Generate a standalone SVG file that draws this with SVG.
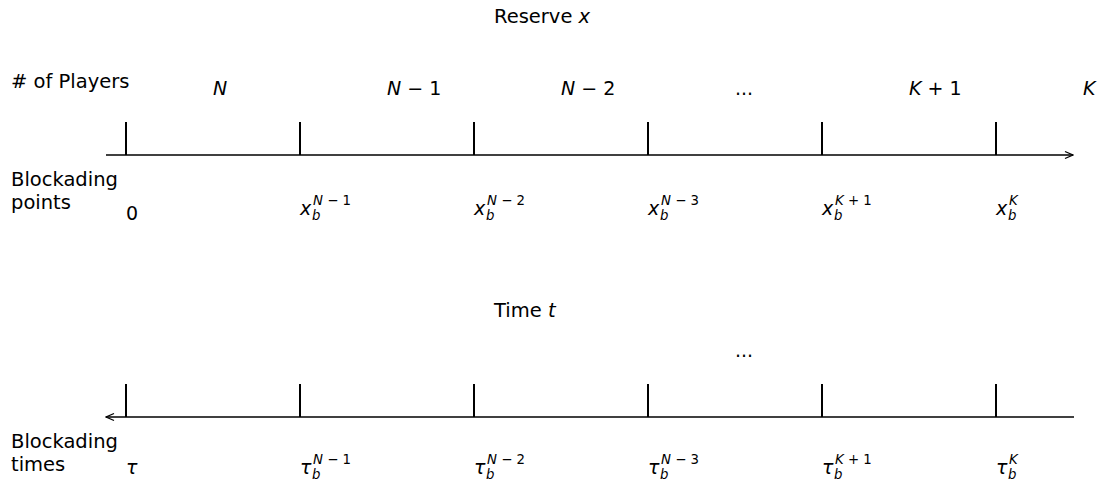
<svg xmlns="http://www.w3.org/2000/svg" width="1102" height="487" viewBox="0 0 1102 487">
<defs>
<marker id="chev" viewBox="0 0 10 10" refX="9" refY="5" markerWidth="10" markerHeight="10" markerUnits="userSpaceOnUse" orient="auto-start-reverse">
<path d="M1,1.5 L9,5 L1,8.5" fill="none" stroke="#000" stroke-width="1.3"/>
</marker>
</defs>
<style>
text{font-family:"DejaVu Sans","Liberation Sans",sans-serif;font-size:19.5px;fill:#000}
.m{font-size:19px}
.i{font-style:italic}
.s{font-size:13.3px}
.axis{stroke:#000;stroke-width:1.5;fill:none}
.tick{stroke:#000;stroke-width:2}
</style>
<rect width="1102" height="487" fill="#fff"/>
<g id="connectors">
<line class="axis" x1="106" y1="155" x2="1073" y2="155" marker-end="url(#chev)"/>
<line class="axis" x1="106" y1="417" x2="1074" y2="417" marker-start="url(#chev)"/>
<g id="ticks-top">
<line class="tick" x1="126" y1="122" x2="126" y2="155"/>
<line class="tick" x1="300" y1="122" x2="300" y2="155"/>
<line class="tick" x1="474" y1="122" x2="474" y2="155"/>
<line class="tick" x1="648" y1="122" x2="648" y2="155"/>
<line class="tick" x1="822" y1="122" x2="822" y2="155"/>
<line class="tick" x1="996" y1="122" x2="996" y2="155"/>
</g>
<g id="ticks-bottom">
<line class="tick" x1="126" y1="384" x2="126" y2="417"/>
<line class="tick" x1="300" y1="384" x2="300" y2="417"/>
<line class="tick" x1="474" y1="384" x2="474" y2="417"/>
<line class="tick" x1="648" y1="384" x2="648" y2="417"/>
<line class="tick" x1="822" y1="384" x2="822" y2="417"/>
<line class="tick" x1="996" y1="384" x2="996" y2="417"/>
</g>
</g>
<g id="titles">
<text x="494" y="23">Reserve <tspan class="i">x</tspan></text>
<text x="494" y="317">Time <tspan class="i">t</tspan></text>
</g>
<g id="row-labels">
<text x="11" y="88"># of Players</text>
<text x="11" y="186">Blockading</text>
<text x="11" y="209">points</text>
<text x="11" y="448">Blockading</text>
<text x="11" y="471">times</text>
</g>
<g id="players">
<text x="213" y="95" class="m i">N</text>
<text x="387" y="95" class="m"><tspan class="i">N</tspan> − 1</text>
<text x="561" y="95" class="m"><tspan class="i">N</tspan> − 2</text>
<text x="735" y="95" class="m">...</text>
<text x="909" y="95" class="m"><tspan class="i">K</tspan> + 1</text>
<text x="1083" y="95" class="m i">K</text>
<text x="735" y="357" class="m">...</text>
</g>
<g id="points">
<text x="126" y="220" class="m">0</text>
<text class="m"><tspan x="300" y="215" class="i">x</tspan><tspan x="312" y="220" class="s i">b</tspan><tspan x="313" y="205" class="s"><tspan class="i">N</tspan> − 1</tspan></text>
<text class="m"><tspan x="474" y="215" class="i">x</tspan><tspan x="486" y="220" class="s i">b</tspan><tspan x="487" y="205" class="s"><tspan class="i">N</tspan> − 2</tspan></text>
<text class="m"><tspan x="648" y="215" class="i">x</tspan><tspan x="660" y="220" class="s i">b</tspan><tspan x="661" y="205" class="s"><tspan class="i">N</tspan> − 3</tspan></text>
<text class="m"><tspan x="822" y="215" class="i">x</tspan><tspan x="834" y="220" class="s i">b</tspan><tspan x="835" y="205" class="s"><tspan class="i">K</tspan> + 1</tspan></text>
<text class="m"><tspan x="996" y="215" class="i">x</tspan><tspan x="1008" y="220" class="s i">b</tspan><tspan x="1009" y="205" class="s i">K</tspan></text>
</g>
<g id="times">
<text x="126" y="474" class="m i">τ</text>
<text class="m"><tspan x="300" y="474" class="i">τ</tspan><tspan x="312" y="479" class="s i">b</tspan><tspan x="313" y="464" class="s"><tspan class="i">N</tspan> − 1</tspan></text>
<text class="m"><tspan x="474" y="474" class="i">τ</tspan><tspan x="486" y="479" class="s i">b</tspan><tspan x="487" y="464" class="s"><tspan class="i">N</tspan> − 2</tspan></text>
<text class="m"><tspan x="648" y="474" class="i">τ</tspan><tspan x="660" y="479" class="s i">b</tspan><tspan x="661" y="464" class="s"><tspan class="i">N</tspan> − 3</tspan></text>
<text class="m"><tspan x="822" y="474" class="i">τ</tspan><tspan x="834" y="479" class="s i">b</tspan><tspan x="835" y="464" class="s"><tspan class="i">K</tspan> + 1</tspan></text>
<text class="m"><tspan x="996" y="474" class="i">τ</tspan><tspan x="1008" y="479" class="s i">b</tspan><tspan x="1009" y="464" class="s i">K</tspan></text>
</g>
</svg>
